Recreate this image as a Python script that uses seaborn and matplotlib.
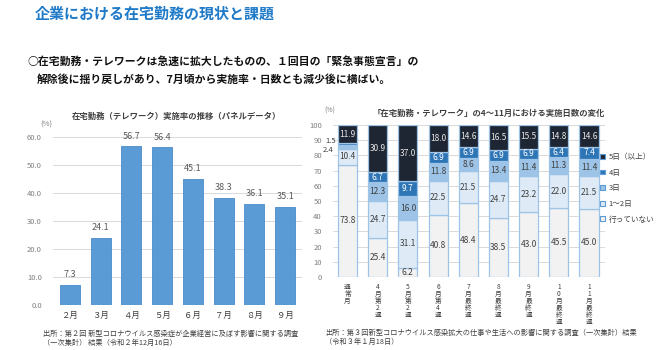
import numpy as np
import pandas as pd
import matplotlib
matplotlib.use('Agg')
import matplotlib.pyplot as plt
from matplotlib.patches import Patch
import seaborn as sns

# left chart: 在宅勤務実施率
months = ['２月', '３月', '４月', '５月', '６月', '７月', '８月', '９月']
rate = [7.3, 24.1, 56.7, 56.4, 45.1, 38.3, 36.1, 35.1]

# right chart: 実施日数の変化 (bottom -> top)
periods = ['通常月', '4月第2週', '5月第2週', '6月第4週', '7月最終週',
           '8月最終週', '9月最終週', '10月最終週', '11月最終週']
days_none = [73.8, 25.4, 6.2, 40.8, 48.4, 38.5, 43.0, 45.5, 45.0]
days_12 = [10.4, 24.7, 31.1, 22.5, 21.5, 24.7, 23.2, 22.0, 21.5]
days_3 = [2.4, 12.3, 16.0, 11.8, 8.6, 13.4, 11.4, 11.3, 11.4]
days_4 = [1.5, 6.7, 9.7, 6.9, 6.9, 6.9, 6.9, 6.4, 7.4]
days_5 = [11.9, 30.9, 37.0, 18.0, 14.6, 16.5, 15.5, 14.8, 14.6]
layer_names = ['行っていない', '1～2日', '3日', '4日', '5日（以上）']

sns.set_theme(style='white')
plt.rcParams['font.family'] = ['Noto Sans CJK JP', 'DejaVu Sans']

fig = plt.figure(figsize=(6.7, 3.5), dpi=100)

# headings
fig.text(35/670, 1-14/350, '企業における在宅勤務の現状と課題', color='#1F7AC8',
         fontsize=10.8, fontweight='bold', va='center')
fig.text(27/670, 1-62/350, '○在宅勤務・テレワークは急速に拡大したものの、１回目の「緊急事態宣言」の',
         fontsize=7.8, fontweight='bold', va='center', color='#111111')
fig.text(37/670, 1-80/350, '解除後に揺り戻しがあり、7月頃から実施率・日数とも減少後に横ばい。',
         fontsize=7.8, fontweight='bold', va='center', color='#111111')

grey = '#7F7F7F'
dark = '#404040'

# ---- left chart ----
ax1 = fig.add_axes([53/670, 1-305/350, 249/670, 168/350])
sns.barplot(x=months, y=rate, color='#5B9BD5', width=0.65, saturation=1,
            edgecolor='#4A8BC9', linewidth=0.6, ax=ax1)
ax1.bar_label(ax1.containers[0], fmt='%.1f', padding=4, fontsize=6.5, color='#595959')
ax1.set_ylim(0, 60)
ax1.set_xlim(-0.55, 7.55)
ax1.set_yticks(np.arange(0, 61, 10))
ax1.set_yticklabels([f'{v:.1f}' for v in np.arange(0, 61, 10)])
ax1.grid(axis='y', color='#D9D9D9', linewidth=0.7)
ax1.set_axisbelow(True)
for s in ax1.spines.values():
    s.set_visible(False)
ax1.tick_params(axis='y', labelsize=5.5, labelcolor=grey, length=0, pad=8)
ax1.tick_params(axis='x', labelsize=6, labelcolor=dark, length=0, pad=4)
ax1.set_xlabel('')
ax1.set_ylabel('')
fig.text(72/670, 1-116/350, '在宅勤務（テレワーク）実施率の推移（パネルデータ）',
         fontsize=6, fontweight='bold', color=dark, va='center')
fig.text(40/670, 1-125/350, '(%)', fontsize=5.5, color=grey, va='center')
fig.text(43/670, 1-334/350, '出所：第２回 新型コロナウイルス感染症が企業経営に及ぼす影響に関する調査',
         fontsize=5.2, color=dark, va='center')
fig.text(43/670, 1-343/350, '（一次集計） 結果（令和２年12月16日）',
         fontsize=5.2, color=dark, va='center')

# ---- right chart ----
ax2 = fig.add_axes([333/670, 1-277/350, 272/670, 152/350])
layers = [days_none, days_12, days_3, days_4, days_5]
colors = ['#F2F2F2', '#DEEBF7', '#9DC3E6', '#2E75B6', '#1F2633']
txt_colors = [dark, dark, dark, 'white', '#E8E8E8']
x = np.arange(len(periods))
bottom = np.zeros(len(periods))
for vals, c, tc, name in zip(layers, colors, txt_colors, layer_names):
    vals = np.array(vals)
    ax2.bar(x, vals, bottom=bottom, width=0.63, color=c, edgecolor='#9DC3E6',
            linewidth=0.9, label=name)
    for i, v in enumerate(vals):
        mid = bottom[i] + v / 2
        if v >= 3:
            ax2.text(i, mid, f'{v:.1f}', ha='center', va='center', fontsize=6, color=tc)
    bottom += vals

# small segments of 通常月 labelled outside
ax2.annotate(f'{days_4[0]:.1f}', (-0.33, days_none[0] + days_12[0] + days_3[0] + days_4[0] / 2),
             xytext=(-1, 2), textcoords='offset points', ha='right', va='center',
             fontsize=5.5, color=dark, annotation_clip=False)
ax2.annotate(f'{days_3[0]:.1f}', (-0.33, days_none[0] + days_12[0] + days_3[0] / 2),
             xytext=(-3, -2), textcoords='offset points', ha='right', va='center',
             fontsize=5.5, color=dark, annotation_clip=False)

ax2.set_ylim(0, 100)
ax2.set_xlim(-0.48, 8.53)
ax2.set_yticks(np.arange(0, 101, 10))
ax2.set_xticks(x)
ax2.set_xticklabels(['\n'.join(p) for p in periods], linespacing=0.85)
ax2.grid(axis='y', color='#D9D9D9', linewidth=0.7)
ax2.set_axisbelow(True)
for s in ax2.spines.values():
    s.set_visible(False)
ax2.tick_params(axis='y', labelsize=5.5, labelcolor=grey, length=0, pad=8)
ax2.tick_params(axis='x', labelsize=4.8, labelcolor=dark, length=0, pad=4)

fig.text(373/670, 1-113/350, '「在宅勤務・テレワーク」の4～11月における実施日数の変化',
         fontsize=6, fontweight='bold', color=dark, va='center')
fig.text(324/670, 1-111/350, '(%)', fontsize=5, color=grey, va='center')
fig.text(325/670, 1-333/350, '出所：第３回新型コロナウイルス感染拡大の仕事や生活への影響に関する調査（一次集計）結果',
         fontsize=5.2, color=dark, va='center')
fig.text(325/670, 1-342/350, '（令和３年１月18日）', fontsize=5.2, color=dark, va='center')

handles = [Patch(facecolor=c, edgecolor='#5B9BD5', linewidth=0.8) for c in colors][::-1]
fig.legend(handles, layer_names[::-1], loc='upper left', bbox_to_anchor=(600/670, 1-153/350),
           frameon=False, fontsize=5.5, labelcolor=dark, handlelength=0.6, handleheight=0.6,
           handletextpad=0.5, labelspacing=1.0, borderaxespad=0, borderpad=0)

fig.savefig('out.png', dpi=100)
